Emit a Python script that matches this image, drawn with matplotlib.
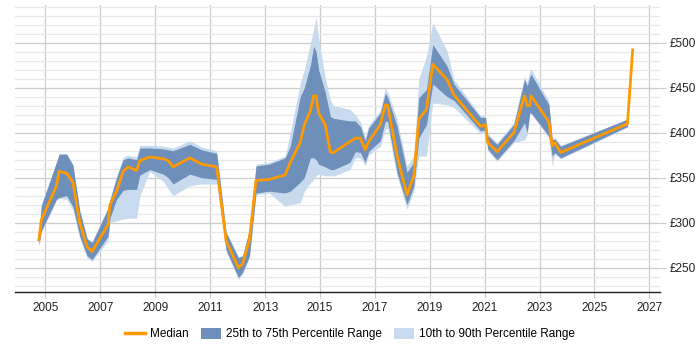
import matplotlib.pyplot as plt
import numpy as np
from matplotlib.patches import Patch
from matplotlib.lines import Line2D
from matplotlib.ticker import MultipleLocator, FuncFormatter

plt.rcParams['font.family'] = ['Liberation Sans', 'DejaVu Sans']

# sample dates (decimal years) and day-rate percentiles in GBP
years = [2004.76, 2004.85, 2005.40, 2005.50, 2005.77, 2006.00, 2006.25, 2006.52,
         2006.70, 2007.28, 2007.35, 2007.59, 2007.83, 2008.01, 2008.32, 2008.44,
         2008.80, 2009.29, 2009.47, 2009.65, 2010.26, 2010.69, 2011.24, 2011.58,
         2012.03, 2012.18, 2012.43, 2012.67, 2013.14, 2013.73, 2013.92, 2014.28,
         2014.43, 2014.65, 2014.77, 2014.86, 2014.95, 2015.19, 2015.38, 2015.50,
         2016.09, 2016.29, 2016.47, 2016.65, 2016.77, 2017.20, 2017.38, 2017.47,
         2017.81, 2018.17, 2018.42, 2018.60, 2018.88, 2019.11, 2019.63, 2019.88,
         2020.85, 2021.03, 2021.11, 2021.45, 2022.06, 2022.45, 2022.55, 2022.64,
         2022.69, 2023.34, 2023.46, 2023.55, 2023.77, 2026.20, 2026.39]

median = [281, 303, 341, 357, 355, 345, 300, 273,
          268, 298, 320, 335, 357, 362, 358, 369,
          373, 371, 369, 362, 372, 365, 362, 280,
          250, 254, 281, 347, 348, 353, 367, 389,
          409, 424, 441, 441, 422, 409, 378, 378,
          390, 394, 394, 381, 390, 409, 431, 430,
          374, 331, 352, 415, 426, 476, 459, 442,
          407, 409, 389, 379, 400, 441, 430, 430,
          441, 412, 385, 389, 378, 410, 492]

p25 = [276, 291, 326, 328, 330, 318, 285, 263,
       259, 285, 305, 326, 336, 337, 337, 353,
       359, 354, 350, 343, 354, 350, 348, 270,
       239, 245, 263, 333, 335, 333, 335, 345,
       350, 372, 372, 370, 365, 362, 359, 359,
       367, 379, 378, 367, 379, 391, 413, 412,
       355, 320, 341, 394, 409, 454, 440, 436,
       402, 403, 382, 370, 391, 411, 400, 422,
       422, 396, 374, 378, 372, 407, np.nan]

p75 = [287, 319, 367, 376, 376, 364, 313, 282,
       278, 316, 325, 350, 370, 372, 370, 383,
       383, 382, 381, 380, 387, 381, 377, 289,
       261, 263, 292, 363, 365, 372, 385, 440,
       450, 475, 496, 490, 470, 445, 418, 416,
       413, 413, 407, 391, 405, 422, 444, 439,
       407, 356, 367, 439, 448, 498, 474, 454,
       417, 417, 397, 387, 409, 459, 452, 462,
       465, 431, 392, 393, 385, 415, np.nan]

p10 = [273, 289, 325, 327, 326, 314, 283, 261,
       257, 280, 300, 302, 304, 305, 305, 330,
       357, 346, 338, 330, 341, 343, 343, 268,
       237, 243, 261, 331, 333, 318, 320, 322,
       335, 344, 348, 352, 354, 352, 352, 352,
       359, 372, 372, 363, 375, 385, 404, 405,
       352, 315, 335, 374, 374, 433, 431, 428,
       399, 400, 380, 368, 389, 392, 398, 420,
       421, 394, 363, 376, 371, 406, np.nan]

p90 = [288, 320, 368, 377, 377, 365, 314, 283,
       279, 317, 327, 352, 373, 375, 373, 386,
       386, 385, 384, 383, 391, 384, 380, 291,
       262, 264, 293, 365, 367, 374, 400, 455,
       470, 500, 515, 528, 505, 462, 436, 430,
       426, 420, 412, 395, 408, 425, 450, 445,
       415, 363, 374, 460, 485, 522, 491, 459,
       419, 419, 399, 389, 411, 463, 456, 468,
       471, 435, 394, 395, 386, 415, np.nan]

orange = '#ff9900'
dark = '#6d8fba'
light = '#c8dbee'

fig = plt.figure(figsize=(7, 3.5), dpi=100)
ax = fig.add_axes([0.021, 0.165, 0.922, 0.821])

x = np.array(years)
ax.fill_between(x, p10, p90, color=light, linewidth=0, zorder=2)
ax.fill_between(x, p25, p75, color=dark, linewidth=0, zorder=3)
ax.plot(x, median, color=orange, linewidth=2, zorder=4)

ax.set_xlim(2003.88, 2027.39)
ax.set_ylim(222.7, 542)

# year ticks fall on odd years
ax.xaxis.set_major_locator(MultipleLocator(2, offset=1))
ax.xaxis.set_major_formatter(FuncFormatter(lambda v, p: f"{int(round(v))}"))
ax.yaxis.set_major_locator(MultipleLocator(50))
ax.yaxis.set_minor_locator(MultipleLocator(10))
ax.yaxis.set_major_formatter(FuncFormatter(lambda v, p: f"£{int(v)}"))
ax.yaxis.tick_right()

ax.grid(True, which='major', axis='both', color='#cccccc', linewidth=0.9, zorder=0)
ax.grid(True, which='minor', axis='y', color='#e8e8e8', linewidth=0.9, zorder=0)
ax.set_axisbelow(True)

for side in ['top', 'left', 'right']:
    ax.spines[side].set_visible(False)
ax.spines['bottom'].set_color('#222222')
ax.spines['bottom'].set_linewidth(1.0)

ax.tick_params(axis='x', length=4, color='#cccccc', labelsize=8.5, labelcolor='#222222', pad=3)
ax.tick_params(axis='y', which='major', length=4, color='#cccccc', labelsize=8.5,
               labelcolor='#222222', pad=3)
ax.tick_params(axis='y', which='minor', length=0)

handles = [
    Line2D([0], [0], color=orange, linewidth=2.5),
    Patch(facecolor=dark, edgecolor='none'),
    Patch(facecolor=light, edgecolor='none'),
]
labels = ['Median', '25th to 75th Percentile Range', '10th to 90th Percentile Range']
fig.legend(handles, labels, loc='center', bbox_to_anchor=(0.5, 0.045), ncol=3,
           frameon=False, fontsize=8.5, handlelength=1.7, handleheight=1.0,
           handletextpad=0.45, columnspacing=1.0)

fig.savefig('out.png', dpi=100)
